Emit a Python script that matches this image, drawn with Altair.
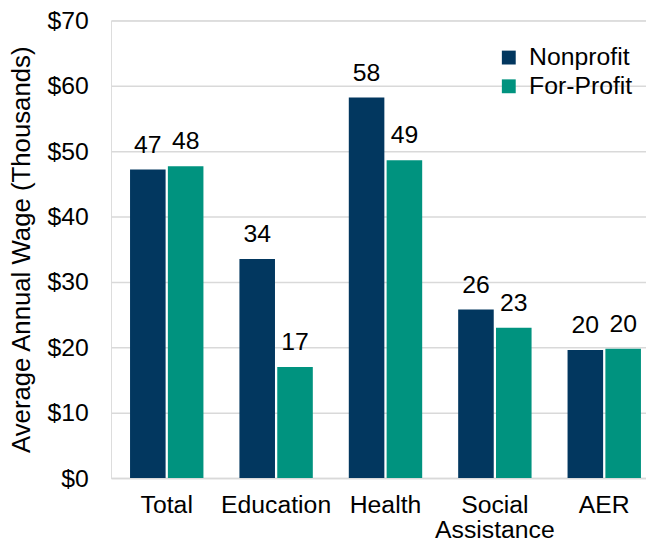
import altair as alt
import pandas as pd

categories = ["Total", "Education", "Health", "Social Assistance", "AER"]
series = ["Nonprofit", "For-Profit"]
nonprofit = [47.2, 33.5, 58.2, 25.8, 19.6]
forprofit = [47.7, 17.0, 48.6, 23.0, 19.8]
colors = ["#02375F", "#00937F"]

rows = []
for c, a, b in zip(categories, nonprofit, forprofit):
    rows.append({"category": c, "series": "Nonprofit", "value": a, "label": str(round(a))})
    rows.append({"category": c, "series": "For-Profit", "value": b, "label": str(round(b))})
df = pd.DataFrame(rows)

FONT = "Liberation Sans"
FS = 25

x = alt.X("category:N", sort=categories, title=None,
          scale=alt.Scale(paddingInner=0.329, paddingOuter=0.11, align=0.79, round=False),
          axis=alt.Axis(labelAngle=0, labelFontSize=FS, labelFont=FONT, labelColor="#000000",
                        labelPadding=15, ticks=False, domainColor="#D9D9D9", domainWidth=1.5,
                        labelExpr="split(datum.value, ' ')", labelLineHeight=25,
                        labelBaseline="top"))
xo = alt.XOffset("series:N", sort=series, scale=alt.Scale(paddingInner=0.06, paddingOuter=0))
y = alt.Y("value:Q", title="Average Annual Wage (Thousands)",
          scale=alt.Scale(domain=[0, 70], nice=False),
          axis=alt.Axis(values=[0, 10, 20, 30, 40, 50, 60, 70], format="$,.0f",
                        labelFontSize=FS, labelFont=FONT, labelColor="#000000",
                        labelPadding=23, ticks=False, domain=False,
                        gridColor="#D9D9D9", gridWidth=1.5,
                        titleFontSize=26, titleFont=FONT, titleFontWeight="normal",
                        titleColor="#000000", titlePadding=13))

bars = alt.Chart(df).mark_bar().encode(
    x=x, xOffset=xo, y=y,
    color=alt.Color("series:N", sort=series,
                    scale=alt.Scale(domain=series, range=colors),
                    legend=alt.Legend(title=None, orient="none", legendX=389, legendY=25,
                                      symbolType="square", symbolSize=196,
                                      symbolStrokeWidth=0, labelFontSize=FS,
                                      labelFont=FONT, labelColor="#000000",
                                      rowPadding=3, labelOffset=8))
)

text = alt.Chart(df).mark_text(baseline="alphabetic", dy=-17, fontSize=FS, font=FONT,
                               color="#000000").encode(
    x=x, xOffset=xo, y=y, text="label:N")

chart = (bars + text).properties(
    width=540, height=462,
    padding={"left": 104, "top": 10, "right": 0, "bottom": 66},
    autosize=alt.AutoSizeParams(type="none"),
).configure_view(stroke=None).configure(background="#FFFFFF")

chart.save("out.html", embed_options={"renderer": "svg", "actions": False})
